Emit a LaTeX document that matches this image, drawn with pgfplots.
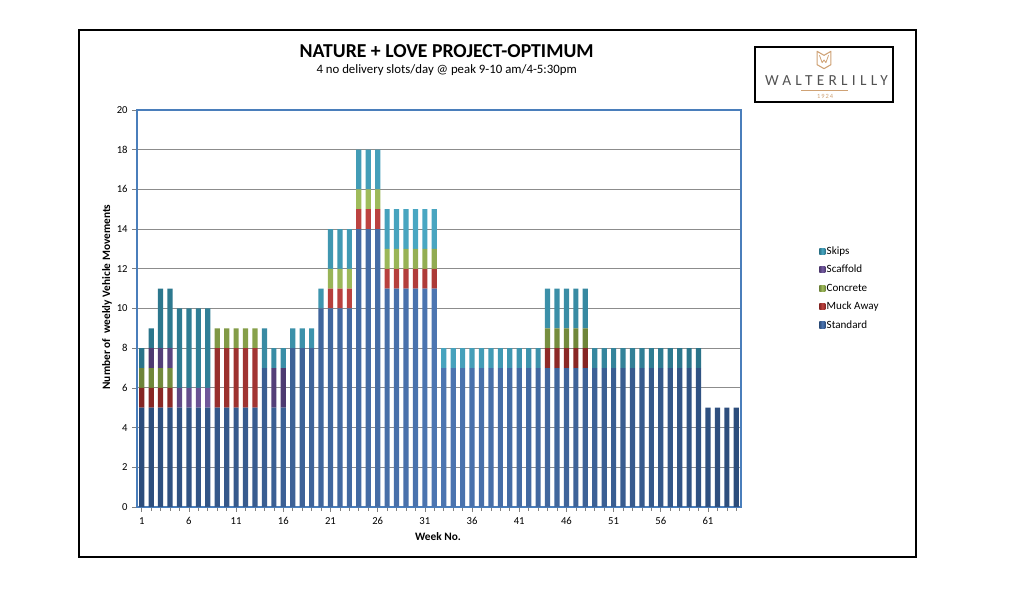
\documentclass[border=0pt]{standalone}
\usepackage{fontspec}
\setmainfont{Carlito}[Ligatures={NoCommon}]
\usepackage{pgfplots}
\pgfplotsset{compat=1.18}
\usepackage{pgfplotstable}
\definecolor{cStd}{HTML}{3D6AAB}
\definecolor{cMuck}{HTML}{B83330}
\definecolor{cConc}{HTML}{98B74E}
\definecolor{cScaf}{HTML}{6A4E9A}
\definecolor{cSkip}{HTML}{3AA0BE}
\definecolor{cAx}{HTML}{4A7EBB}
\definecolor{gold}{HTML}{CFA275}

\pgfplotstableread{
week std muck conc scaf skip
1 5 1 1 0 1
2 5 1 1 1 1
3 5 1 1 1 3
4 5 1 1 1 3
5 5 0 0 1 4
6 5 0 0 1 4
7 5 0 0 1 4
8 5 0 0 1 4
9 5 3 1 0 0
10 5 3 1 0 0
11 5 3 1 0 0
12 5 3 1 0 0
13 5 3 1 0 0
14 7 0 0 0 2
15 5 0 0 2 1
16 5 0 0 2 1
17 8 0 0 0 1
18 8 0 0 0 1
19 8 0 0 0 1
20 10 0 0 0 1
21 10 1 1 0 2
22 10 1 1 0 2
23 10 1 1 0 2
24 14 1 1 0 2
25 14 1 1 0 2
26 14 1 1 0 2
27 11 1 1 0 2
28 11 1 1 0 2
29 11 1 1 0 2
30 11 1 1 0 2
31 11 1 1 0 2
32 11 1 1 0 2
33 7 0 0 0 1
34 7 0 0 0 1
35 7 0 0 0 1
36 7 0 0 0 1
37 7 0 0 0 1
38 7 0 0 0 1
39 7 0 0 0 1
40 7 0 0 0 1
41 7 0 0 0 1
42 7 0 0 0 1
43 7 0 0 0 1
44 7 1 1 0 2
45 7 1 1 0 2
46 7 1 1 0 2
47 7 1 1 0 2
48 7 1 1 0 2
49 7 0 0 0 1
50 7 0 0 0 1
51 7 0 0 0 1
52 7 0 0 0 1
53 7 0 0 0 1
54 7 0 0 0 1
55 7 0 0 0 1
56 7 0 0 0 1
57 7 0 0 0 1
58 7 0 0 0 1
59 7 0 0 0 1
60 7 0 0 0 1
61 5 0 0 0 0
62 5 0 0 0 0
63 5 0 0 0 0
64 5 0 0 0 0
}\data

\tikzset{barsh/.style={draw=none, left color=#1!72!black, right color=#1!72!black, middle color=#1!92!white}}

\begin{document}
\begin{tikzpicture}
\path[fill=white] (0pt,0pt) rectangle (768pt,448.5pt);
\draw[line width=1.6pt] (59.25pt,30.75pt) rectangle (687pt,426pt);
% title
\node[anchor=base, font=\fontsize{14.8}{17}\selectfont\bfseries] at (335pt,405pt) {NATURE + LOVE PROJECT-OPTIMUM};
\node[anchor=base, font=\fontsize{9.6}{11}\selectfont] at (335pt,393pt) {4 no delivery slots/day @ peak 9-10 am/4-5:30pm};
% logo
\draw[line width=0.8pt] (566.25pt,372pt) rectangle (669.75pt,413.25pt);
\draw[gold, line width=0.8pt, line join=round] (612.8pt,400pt) -- (612.8pt,410pt) -- (618pt,407pt) -- (623.2pt,410pt) -- (623.2pt,400pt) -- (618pt,397pt) -- cycle;
\draw[gold, line width=0.6pt, line join=round] (614.6pt,407pt) -- (616.6pt,401.5pt) -- (618pt,403.5pt) -- (619.4pt,401.5pt) -- (621.4pt,407pt);
\node[anchor=base, text=black!68, font=\fontsize{11.5}{13}\selectfont\addfontfeature{LetterSpace=28}] at (619.8pt,384.2pt) {WALTERLILLY};
\draw[gold, line width=0.4pt] (601pt,380.5pt) -- (636pt,380.5pt);
\node[anchor=base, text=gold, font=\fontsize{4.8}{5}\selectfont\addfontfeature{LetterSpace=15}] at (618.8pt,374.8pt) {1924};
% axis labels
\node[rotate=90, font=\fontsize{8.5}{10}\selectfont\bfseries] at (80.25pt,225.75pt) {Number of\ \ weekly Vehic\kern0.25pt le Movements};
\node[font=\fontsize{8.5}{10}\selectfont\bfseries] at (328.5pt,45.75pt) {Week No.};
\begin{axis}[
  at={(102.75pt,68.25pt)}, anchor=south west,
  scale only axis, width=453pt, height=297.75pt,
  ybar stacked, bar width=0.55,
  xmin=0.5, xmax=64.5, ymin=0, ymax=20,
  xtick={1,6,...,61}, minor xtick={1,...,64},
  ytick={0,2,...,20},
  xtick pos=bottom, ytick pos=left,
  tick align=outside,
  major tick length=3.5pt, minor tick length=3pt,
  tick style={color=black!50, line width=0.5pt},
  ymajorgrids, grid style={color=black!45, line width=0.6pt},
  axis line style={draw=cAx, line width=1.3pt},
  ticklabel style={font=\fontsize{8}{9}\selectfont},
  /pgf/number format/assume math mode=true,
  xticklabel style={yshift=-1pt},
  legend image code/.code={\path[#1] (0pt,-2.3pt) rectangle (4.6pt,2.3pt);},
  reverse legend,
  legend cell align=left,
  legend style={at={(1.1225,0.667)}, anchor=north west, draw=none, fill=none,
    font=\fontsize{8.3}{9}\selectfont, row sep=4.3pt,
    nodes={inner sep=1pt, text height=6pt, text depth=1.5pt}},
]
\addplot[barsh=cStd] table[x=week, y=std] {\data};
\addplot[barsh=cMuck] table[x=week, y=muck] {\data};
\addplot[barsh=cConc] table[x=week, y=conc] {\data};
\addplot[barsh=cScaf] table[x=week, y=scaf] {\data};
\addplot[barsh=cSkip] table[x=week, y=skip] {\data};
\legend{Standard, Muck Away, Concrete, Scaffold, Skips}
\end{axis}
\end{tikzpicture}
\end{document}
